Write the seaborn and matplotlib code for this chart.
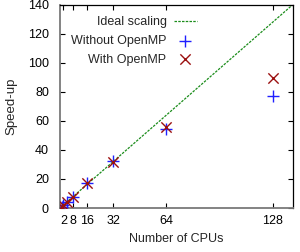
import pandas as pd
import matplotlib
matplotlib.use('Agg')
import matplotlib.pyplot as plt
import seaborn as sns

cpus = [1, 2, 4, 8, 16, 32, 64, 128]
without_openmp = [1.0, 2.0, 3.9, 7.8, 17.3, 32.5, 54.5, 77.5]
with_openmp = [1.0, 1.9, 3.8, 7.8, 17.0, 32.0, 56.0, 89.5]
ideal_x = [0, 140]
ideal_y = [0, 140]
xticks = [2, 8, 16, 32, 64, 128]
yticks = [0, 20, 40, 60, 80, 100, 120, 140]

sns.set_style('ticks')
plt.rcParams['font.family'] = ['Liberation Sans', 'DejaVu Sans']
plt.rcParams['font.size'] = 9

df = pd.DataFrame({'cpus': cpus, 'without': without_openmp, 'with': with_openmp})
ideal = pd.DataFrame({'x': ideal_x, 'y': ideal_y})

fig = plt.figure(figsize=(3.0, 2.52), dpi=100)
ax = fig.add_axes([0.2, 0.1746, 0.775, 0.806])

sns.lineplot(data=ideal, x='x', y='y', ax=ax, color='#1a8c1a', linestyle=(0, (2, 1)),
             linewidth=0.9, label='Ideal scaling')
sns.scatterplot(data=df, x='cpus', y='without', ax=ax, marker='+', color='#1f1fff',
                s=70, linewidth=1.0, label='Without OpenMP', zorder=3)
sns.scatterplot(data=df, x='cpus', y='with', ax=ax, marker='x', color='#9b1010',
                s=55, linewidth=1.0, label='With OpenMP', zorder=4)

ax.set_xlim(0, 140)
ax.set_ylim(0, 140)
ax.set_xticks(xticks)
ax.set_yticks(yticks)
ax.set_xlabel('Number of CPUs', labelpad=4, fontsize=9)
ax.set_ylabel('Speed-up', fontsize=9.5)
ax.yaxis.set_label_coords(-0.185, 0.5)
ax.tick_params(direction='in', length=3.6, width=0.8, top=True, right=True,
               labelsize=9, colors='black')
ax.tick_params(axis='x', pad=5)
ax.tick_params(axis='y', pad=8)

for side in ['top', 'right']:
    ax.spines[side].set_color('black')
    ax.spines[side].set_linewidth(0.9)
for side in ['left', 'bottom']:
    ax.spines[side].set_color('#7a7a7a')
    ax.spines[side].set_linewidth(1.3)

ax.legend(loc='upper left', bbox_to_anchor=(0.026, 0.97), frameon=False, markerfirst=False,
          handlelength=1.9, labelspacing=0.55, handletextpad=0.56, fontsize=9,
          borderaxespad=0)

fig.savefig('out.png', dpi=100)
